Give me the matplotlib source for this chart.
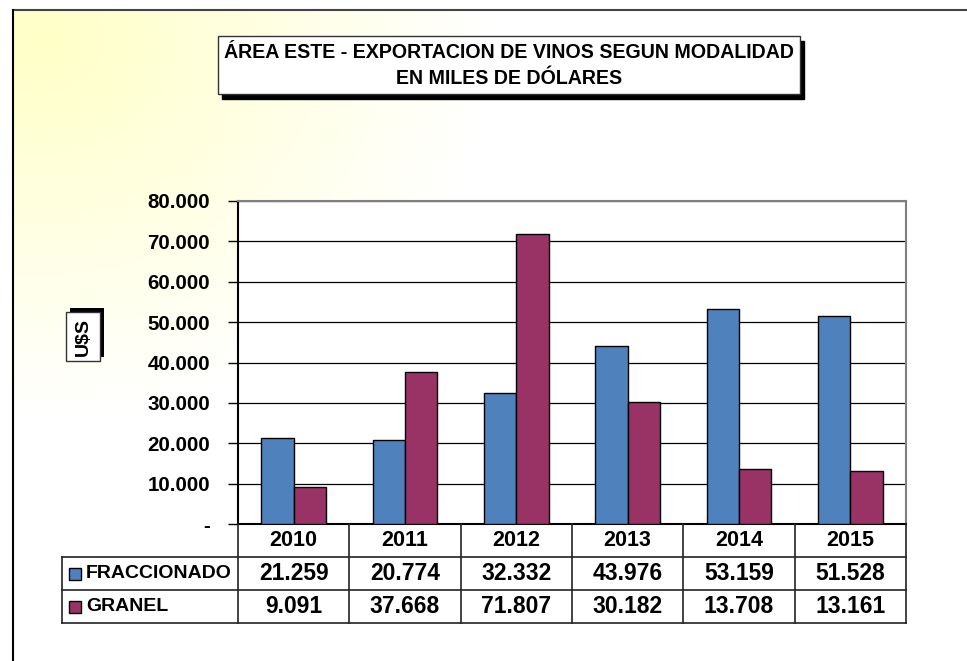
import numpy as np
import matplotlib.pyplot as plt
from matplotlib.patches import Rectangle

years = ["2010", "2011", "2012", "2013", "2014", "2015"]
fraccionado = [21259, 20774, 32332, 43976, 53159, 51528]
granel = [9091, 37668, 71807, 30182, 13708, 13161]
series_names = ["FRACCIONADO", "GRANEL"]
y_ticks = [0, 10000, 20000, 30000, 40000, 50000, 60000, 70000, 80000]

title = "ÁREA ESTE - EXPORTACION DE VINOS SEGUN MODALIDAD\nEN MILES DE DÓLARES"
c_frac = "#4F81BD"
c_gran = "#993366"
FONT = ["Liberation Sans", "DejaVu Sans"]

W, H = 967, 661


def fmt(v):
    if v == 0:
        return "-"
    return f"{v:,.0f}".replace(",", ".")


fig = plt.figure(figsize=(W / 100, H / 100), dpi=100)
fig.patch.set_facecolor("white")

# background with light yellow glow from the top-left corner
bg = fig.add_axes([0, 0, 1, 1], zorder=0)
yy, xx = np.mgrid[0:H, 0:W]
d = np.hypot(xx - 40, (yy - 40) * 1.2)
t = np.clip(d / 450, 0, 1)
img = np.ones((H, W, 3))
img[..., 2] = 0.78 + 0.22 * t
img[yy < 10] = 1
img[xx < 13] = 1
bg.imshow(img, extent=(0, W, H, 0), aspect="auto")
bg.set_xlim(0, W)
bg.set_ylim(H, 0)
bg.axis("off")

# plot area (pixels: x 238-906, y 201-524)
L, R, T, B = 238, 906, 201, 524
ax = fig.add_axes([L / W, 1 - B / H, (R - L) / W, (B - T) / H], zorder=1)
ax.set_facecolor("white")
x = np.arange(len(years))
bw = 0.29
ax.bar(x - bw / 2, fraccionado, bw, color=c_frac, edgecolor="black", linewidth=1, zorder=3)
ax.bar(x + bw / 2, granel, bw, color=c_gran, edgecolor="black", linewidth=1, zorder=3)
ax.set_xlim(-0.5, len(years) - 0.5)
ax.set_ylim(0, 80000)
ax.set_yticks(y_ticks)
ax.set_yticklabels([fmt(v) for v in y_ticks], fontweight="bold", fontsize=14.8, family=FONT)
ax.set_xticks([])
ax.tick_params(axis="y", direction="out", length=7, width=1, pad=13, color="black")
for yv in y_ticks[1:]:
    ax.axhline(yv, color="black", linewidth=0.9, zorder=1)
ax.spines["left"].set_color("black")
ax.spines["bottom"].set_color("black")
ax.spines["top"].set_color("#808080")
ax.spines["right"].set_color("#808080")
for s in ax.spines.values():
    s.set_linewidth(1.5)

# overlay in pixel coordinates for frame, title and data table
ov = fig.add_axes([0, 0, 1, 1], zorder=2)
ov.set_xlim(0, W)
ov.set_ylim(H, 0)
ov.axis("off")
ov.patch.set_alpha(0)

# page frame
ov.plot([13, W], [10, 10], color="#444444", lw=1.5)
ov.plot([13, 13], [10, H], color="black", lw=1.5)

# title box with shadow
ov.add_patch(Rectangle((222, 41), 582, 58, facecolor="black", edgecolor="black", zorder=3))
ov.add_patch(Rectangle((218, 36), 582, 58, facecolor="white", edgecolor="#333333", lw=1, zorder=4))
ov.text(509, 65.5, title, ha="center", va="center", fontsize=14.1, fontweight="bold",
        family=FONT, linespacing=1.4, zorder=5)

# U$S label box (shadow up-right)
ov.add_patch(Rectangle((70, 308), 34, 49, facecolor="black", zorder=3))
ov.add_patch(Rectangle((66, 312), 34, 49, facecolor="white", edgecolor="#333333", lw=1, zorder=4))
ov.text(83, 336.5, "U$S", rotation=90, ha="center", va="center", fontsize=14,
        fontweight="bold", family=FONT, zorder=5)

# data table
cw = (R - L) / len(years)
r0, r1, r2, r3 = B, 557, 590, 623
tl = 62
lc = "#222222"
for yv in (r1, r2, r3):
    ov.plot([tl, R], [yv, yv], color=lc, lw=1.2)
ov.plot([tl, tl], [r1, r3], color=lc, lw=1.2)
for i in range(len(years) + 1):
    xv = L + i * cw
    ov.plot([xv, xv], [r0, r3], color=lc, lw=1.2)

tk = dict(ha="center", va="center", fontweight="bold", family=FONT)
for i, yr in enumerate(years):
    cx = L + (i + 0.5) * cw
    ov.text(cx, (r0 + r1) / 2, yr, fontsize=15.5, **tk)
    ov.text(cx, (r1 + r2) / 2, fmt(fraccionado[i]), fontsize=16.5, **tk)
    ov.text(cx, (r2 + r3) / 2, fmt(granel[i]), fontsize=16.5, **tk)

for (yc, name, col) in [((r1 + r2) / 2, series_names[0], c_frac),
                        ((r2 + r3) / 2, series_names[1], c_gran)]:
    ov.add_patch(Rectangle((69, yc - 6), 12, 12, facecolor=col, edgecolor="black", lw=1))
    ov.text(86, yc, name, ha="left", va="center", fontsize=14, fontweight="bold", family=FONT)

fig.savefig("out.png", dpi=100)
